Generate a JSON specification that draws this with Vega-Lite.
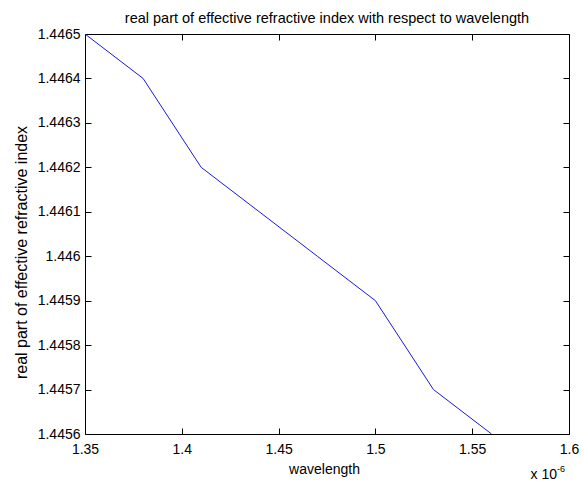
{
  "$schema": "https://vega.github.io/schema/vega-lite/v6.json",
  "width": 484,
  "height": 400,
  "autosize": {"type": "none"},
  "padding": {"left": 85, "top": 34, "right": 15, "bottom": 48},
  "background": "white",
  "config": {
    "view": {"stroke": "black", "strokeWidth": 1, "fill": null},
    "font": "Liberation Sans",
    "axis": {
      "domain": false,
      "ticks": true,
      "tickColor": "#000000",
      "tickOpacity": 1,
      "labelColor": "black",
      "titleColor": "black",
      "labelFont": "Liberation Sans",
      "titleFont": "Liberation Sans",
      "labelFontSize": 14,
      "titleFontSize": 14,
      "titleFontWeight": "normal",
      "grid": false,
      "labelFlush": false,
      "labelOverlap": false,
      "labelBound": false,
      "tickSize": 6,
      "tickWidth": 1,
      "zindex": 1
    }
  },
  "title": {
    "text": "real part of effective refractive index with respect to wavelength",
    "font": "Liberation Sans",
    "fontSize": 14.5,
    "fontWeight": "normal",
    "color": "black",
    "anchor": "middle",
    "offset": 1
  },
  "data": {
    "values": [
      {"wavelength": 1.35, "neff": 1.4465},
      {"wavelength": 1.38, "neff": 1.4464},
      {"wavelength": 1.41, "neff": 1.4462},
      {"wavelength": 1.44, "neff": 1.4461},
      {"wavelength": 1.47, "neff": 1.4460},
      {"wavelength": 1.50, "neff": 1.4459},
      {"wavelength": 1.53, "neff": 1.4457},
      {"wavelength": 1.56, "neff": 1.4456}
    ]
  },
  "resolve": {"axis": {"x": "independent", "y": "independent"}},
  "layer": [
    {
      "mark": {"type": "line", "color": "#1a1ad6", "strokeWidth": 1, "clip": true},
      "encoding": {
        "x": {
          "field": "wavelength",
          "type": "quantitative",
          "scale": {"domain": [1.35, 1.6], "nice": false, "zero": false},
          "axis": {
            "orient": "bottom",
            "offset": -6,
            "values": [1.35, 1.4, 1.45, 1.5, 1.55, 1.6],
            "format": ".3~r",
            "labelPadding": 8,
            "title": "wavelength",
            "titleX": 239,
            "titleY": 45,
            "titleAnchor": null,
            "titleAlign": "center",
            "titleBaseline": "alphabetic"
          }
        },
        "y": {
          "field": "neff",
          "type": "quantitative",
          "scale": {"domain": [1.4456, 1.4465], "nice": false, "zero": false},
          "axis": {
            "orient": "left",
            "offset": -6,
            "values": [1.4456, 1.4457, 1.4458, 1.4459, 1.446, 1.4461, 1.4462, 1.4463, 1.4464, 1.4465],
            "format": ".5~r",
            "labelPadding": 5,
            "title": "real part of effective refractive index",
            "titleFontSize": 16,
            "titleX": -70,
            "titleY": 218,
            "titleAngle": -90,
            "titleAlign": "center",
            "titleBaseline": "middle"
          }
        }
      }
    },
    {
      "mark": {"type": "point", "opacity": 0},
      "encoding": {
        "x": {
          "field": "wavelength",
          "type": "quantitative",
          "axis": {"orient": "top", "offset": -6, "values": [1.35, 1.4, 1.45, 1.5, 1.55, 1.6], "labels": false, "title": null}
        },
        "y": {
          "field": "neff",
          "type": "quantitative",
          "axis": {"orient": "right", "offset": -6, "values": [1.4456, 1.4457, 1.4458, 1.4459, 1.446, 1.4461, 1.4462, 1.4463, 1.4464, 1.4465], "labels": false, "title": null}
        }
      }
    },
    {
      "data": {"values": [{}]},
      "mark": {"type": "text", "text": "x 10", "font": "Liberation Sans", "fontSize": 14, "fontWeight": "normal", "align": "right", "baseline": "alphabetic", "dx": -12, "dy": 45, "color": "black"},
      "encoding": {
        "x": {"datum": 1.6, "type": "quantitative", "axis": null},
        "y": {"datum": 1.4456, "type": "quantitative", "axis": null}
      }
    },
    {
      "data": {"values": [{}]},
      "mark": {"type": "text", "text": "-6", "font": "Liberation Sans", "fontSize": 9, "fontWeight": "normal", "align": "left", "baseline": "alphabetic", "dx": -12, "dy": 38, "color": "black"},
      "encoding": {
        "x": {"datum": 1.6, "type": "quantitative", "axis": null},
        "y": {"datum": 1.4456, "type": "quantitative", "axis": null}
      }
    }
  ]
}
